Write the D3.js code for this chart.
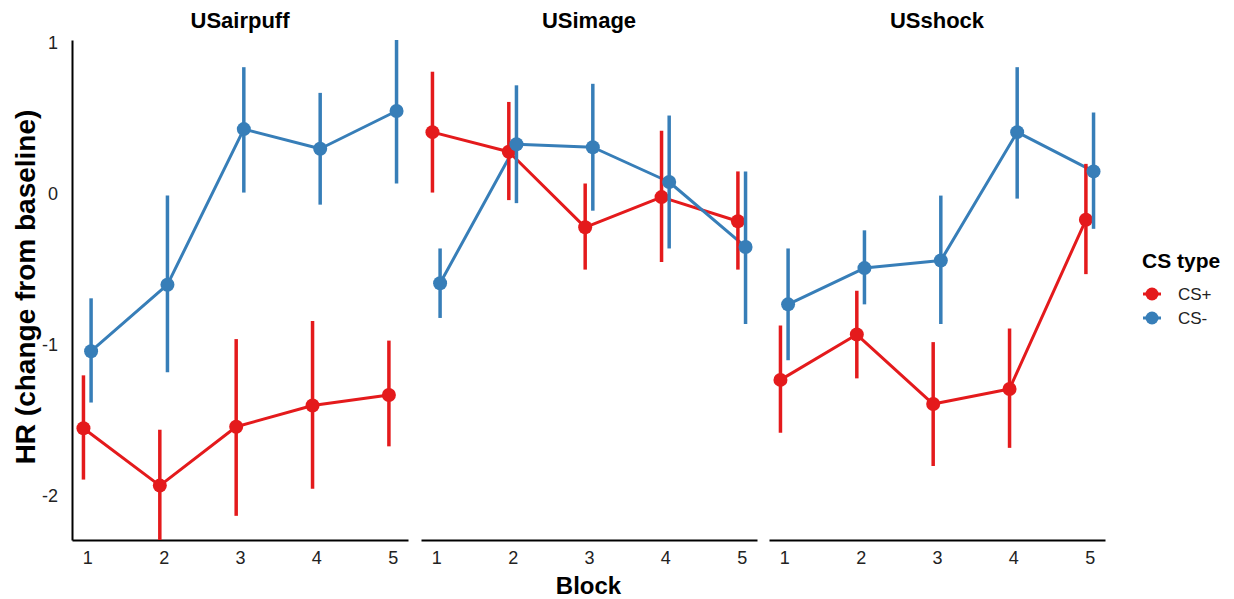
<!DOCTYPE html>
<html>
<head>
<meta charset="utf-8">
<script src="https://cdn.jsdelivr.net/npm/d3@7"></script>
<style>
  html, body { margin: 0; padding: 0; background: #fff; }
  svg { display: block; font-family: "Liberation Sans", Arial, sans-serif; }
</style>
</head>
<body>
<svg id="chart" width="1234" height="599"></svg>
<script>
// Heart-rate change by block, one facet per US type
const panels = ["USairpuff", "USimage", "USshock"];
const blocks = [1, 2, 3, 4, 5];
const csTypes = ["CS+", "CS-"];
const yTicks = [-2, -1, 0, 1];

// CS+ means and interval bounds, one row per panel
const csPlusMean = [
  [-1.55, -1.93, -1.54, -1.40, -1.33],
  [0.41, 0.28, -0.22, -0.02, -0.18],
  [-1.23, -0.93, -1.39, -1.29, -0.17]
];
const csPlusLow = [
  [-1.89, -2.29, -2.13, -1.95, -1.67],
  [0.01, -0.04, -0.50, -0.45, -0.50],
  [-1.58, -1.22, -1.80, -1.68, -0.53]
];
const csPlusHigh = [
  [-1.20, -1.56, -0.96, -0.84, -0.97],
  [0.81, 0.61, 0.07, 0.42, 0.15],
  [-0.87, -0.64, -0.98, -0.89, 0.20]
];

// CS- means and interval bounds, one row per panel
const csMinusMean = [
  [-1.04, -0.60, 0.43, 0.30, 0.55],
  [-0.59, 0.33, 0.31, 0.08, -0.35],
  [-0.73, -0.49, -0.44, 0.41, 0.15]
];
const csMinusLow = [
  [-1.38, -1.18, 0.01, -0.07, 0.07],
  [-0.82, -0.06, -0.11, -0.36, -0.86],
  [-1.10, -0.73, -0.86, -0.03, -0.23]
];
const csMinusHigh = [
  [-0.69, -0.01, 0.84, 0.67, 1.02],
  [-0.36, 0.72, 0.73, 0.52, 0.15],
  [-0.36, -0.24, -0.01, 0.84, 0.54]
];

const colors = { "CS+": "#E41A1C", "CS-": "#377EB8" };
const dodge = { "CS+": -0.05, "CS-": 0.05 };

const svg = d3.select("#chart");

const panelLeft = [72, 421, 769];
const panelWidth = 336;
const plotTop = 40, plotBottom = 540;
const tickFont = 18;

const y = d3.scaleLinear().domain([-2.29, 1.02]).range([plotBottom, plotTop]);

const series = [
  { type: "CS+", mean: csPlusMean, low: csPlusLow, high: csPlusHigh },
  { type: "CS-", mean: csMinusMean, low: csMinusLow, high: csMinusHigh }
];

// plain hyphen for negative tick labels
const plainNumber = d => String(d);

panels.forEach((name, p) => {
  const x = d3.scaleLinear()
    .domain([0.8, 5.2])
    .range([panelLeft[p], panelLeft[p] + panelWidth]);

  const g = svg.append("g");

  // strip title
  g.append("text")
    .attr("x", panelLeft[p] + panelWidth / 2)
    .attr("y", 28)
    .attr("text-anchor", "middle")
    .attr("font-size", 22)
    .attr("font-weight", "bold")
    .attr("fill", "#000")
    .text(name);

  // x axis
  const xAxis = g.append("g")
    .attr("transform", `translate(0,${plotBottom})`)
    .call(d3.axisBottom(x).tickValues(blocks).tickFormat(plainNumber)
      .tickSizeInner(0).tickSizeOuter(0).tickPadding(11));
  xAxis.attr("font-size", tickFont).attr("font-family", null);
  xAxis.select(".domain").attr("stroke", "#000").attr("stroke-width", 2);
  xAxis.selectAll("text").attr("fill", "#222");

  // y axis only on the first facet
  if (p === 0) {
    const yAxis = g.append("g")
      .attr("transform", `translate(${panelLeft[p]},0)`)
      .call(d3.axisLeft(y).tickValues(yTicks).tickFormat(plainNumber)
        .tickSizeInner(0).tickSizeOuter(0).tickPadding(14));
    yAxis.attr("font-size", tickFont).attr("font-family", null);
    yAxis.select(".domain").attr("stroke", "#000").attr("stroke-width", 2);
    yAxis.selectAll("text").attr("fill", "#222");
  }

  const line = d3.line()
    .x(d => x(d.block + d.off))
    .y(d => y(d.mean));

  const rows = series.map(s => ({
    type: s.type,
    pts: blocks.map((b, i) => ({
      block: b, off: dodge[s.type],
      mean: s.mean[p][i], low: s.low[p][i], high: s.high[p][i]
    }))
  }));

  // connecting lines
  rows.forEach(r => {
    g.append("path")
      .datum(r.pts)
      .attr("d", line)
      .attr("fill", "none")
      .attr("stroke", colors[r.type])
      .attr("stroke-width", 3)
      .attr("stroke-linejoin", "round");
  });

  // point ranges
  rows.forEach(r => {
    g.selectAll(null).data(r.pts).enter().append("line")
      .attr("x1", d => x(d.block + d.off))
      .attr("x2", d => x(d.block + d.off))
      .attr("y1", d => y(d.low))
      .attr("y2", d => y(d.high))
      .attr("stroke", colors[r.type])
      .attr("stroke-width", 3.5);
    g.selectAll(null).data(r.pts).enter().append("circle")
      .attr("cx", d => x(d.block + d.off))
      .attr("cy", d => y(d.mean))
      .attr("r", 7)
      .attr("fill", colors[r.type]);
  });
});

// axis titles
svg.append("text")
  .attr("x", (panelLeft[0] + panelLeft[2] + panelWidth) / 2)
  .attr("y", 594)
  .attr("text-anchor", "middle")
  .attr("font-size", 24)
  .attr("font-weight", "bold")
  .text("Block");

svg.append("text")
  .attr("transform", `translate(35,${(plotTop + plotBottom) / 2 - 3}) rotate(-90)`)
  .attr("text-anchor", "middle")
  .attr("font-size", 28)
  .attr("font-weight", "bold")
  .text("HR (change from baseline)");

// legend
const legend = svg.append("g").attr("transform", "translate(1142,0)");
legend.append("text")
  .attr("x", 0).attr("y", 268)
  .attr("font-size", 21)
  .attr("font-weight", "bold")
  .text("CS type");

csTypes.forEach((t, i) => {
  const cy = 294 + i * 24;
  legend.append("line")
    .attr("x1", 1).attr("x2", 19)
    .attr("y1", cy).attr("y2", cy)
    .attr("stroke", colors[t]).attr("stroke-width", 3);
  legend.append("circle")
    .attr("cx", 10).attr("cy", cy).attr("r", 6.5)
    .attr("fill", colors[t]);
  legend.append("text")
    .attr("x", 36).attr("y", cy)
    .attr("dy", "0.36em")
    .attr("font-size", 17)
    .attr("fill", "#222")
    .text(t);
});
</script>
</body>
</html>
